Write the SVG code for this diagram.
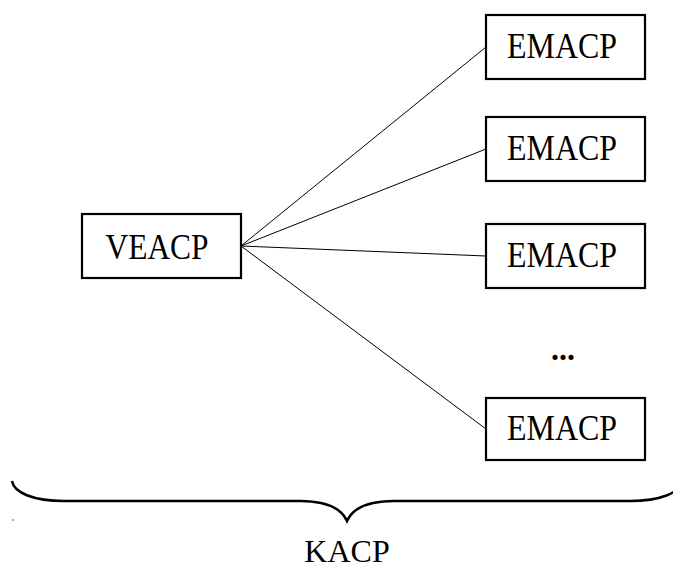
<svg xmlns="http://www.w3.org/2000/svg" width="673" height="565" viewBox="0 0 673 565">
<style>
.box{fill:#fff;stroke:#000;stroke-width:2.2}
.lbl{font-family:"Liberation Serif","Times New Roman",serif;font-size:32px;fill:#000;text-anchor:middle}
.big{font-size:35px}
.edge{stroke:#000;stroke-width:1;fill:none}
</style>
<rect width="673" height="565" fill="#fff"/>
<g id="connectors">
<line class="edge" x1="241" y1="246" x2="486" y2="47"/>
<line class="edge" x1="241" y1="246" x2="486" y2="149"/>
<line class="edge" x1="241" y1="246" x2="486" y2="256"/>
<line class="edge" x1="241" y1="246" x2="486" y2="429"/>
</g>
<g id="veacp"><rect class="box" x="82" y="214" width="159" height="64"/><text class="lbl big" x="157" y="259" textLength="103" lengthAdjust="spacingAndGlyphs">VEACP</text></g>
<g id="emacp1"><rect class="box" x="486" y="15" width="159" height="64"/><text class="lbl big" x="562" y="58" textLength="110" lengthAdjust="spacingAndGlyphs">EMACP</text></g>
<g id="emacp2"><rect class="box" x="486" y="117" width="159" height="64"/><text class="lbl big" x="562" y="160" textLength="110" lengthAdjust="spacingAndGlyphs">EMACP</text></g>
<g id="emacp3"><rect class="box" x="486" y="224" width="159" height="64"/><text class="lbl big" x="562" y="267" textLength="110" lengthAdjust="spacingAndGlyphs">EMACP</text></g>
<g id="ellipsis"><text class="lbl" x="563" y="360" font-weight="bold">...</text></g>
<g id="emacp4"><rect class="box" x="486" y="398" width="159" height="62"/><text class="lbl big" x="562" y="440" textLength="110" lengthAdjust="spacingAndGlyphs">EMACP</text></g>
<g id="brace">
<path d="M12,481 C14,493 34,501 64,501 L300,501 C330,501 342,510 347,521 C352,510 364,501 394,501 L630,501 C660,501 680,493 682,481" fill="none" stroke="#000" stroke-width="2.5"/>
<rect x="12.5" y="519" width="1" height="2" fill="#555"/>
<text class="lbl" x="347" y="562">KACP</text>
</g>
</svg>
